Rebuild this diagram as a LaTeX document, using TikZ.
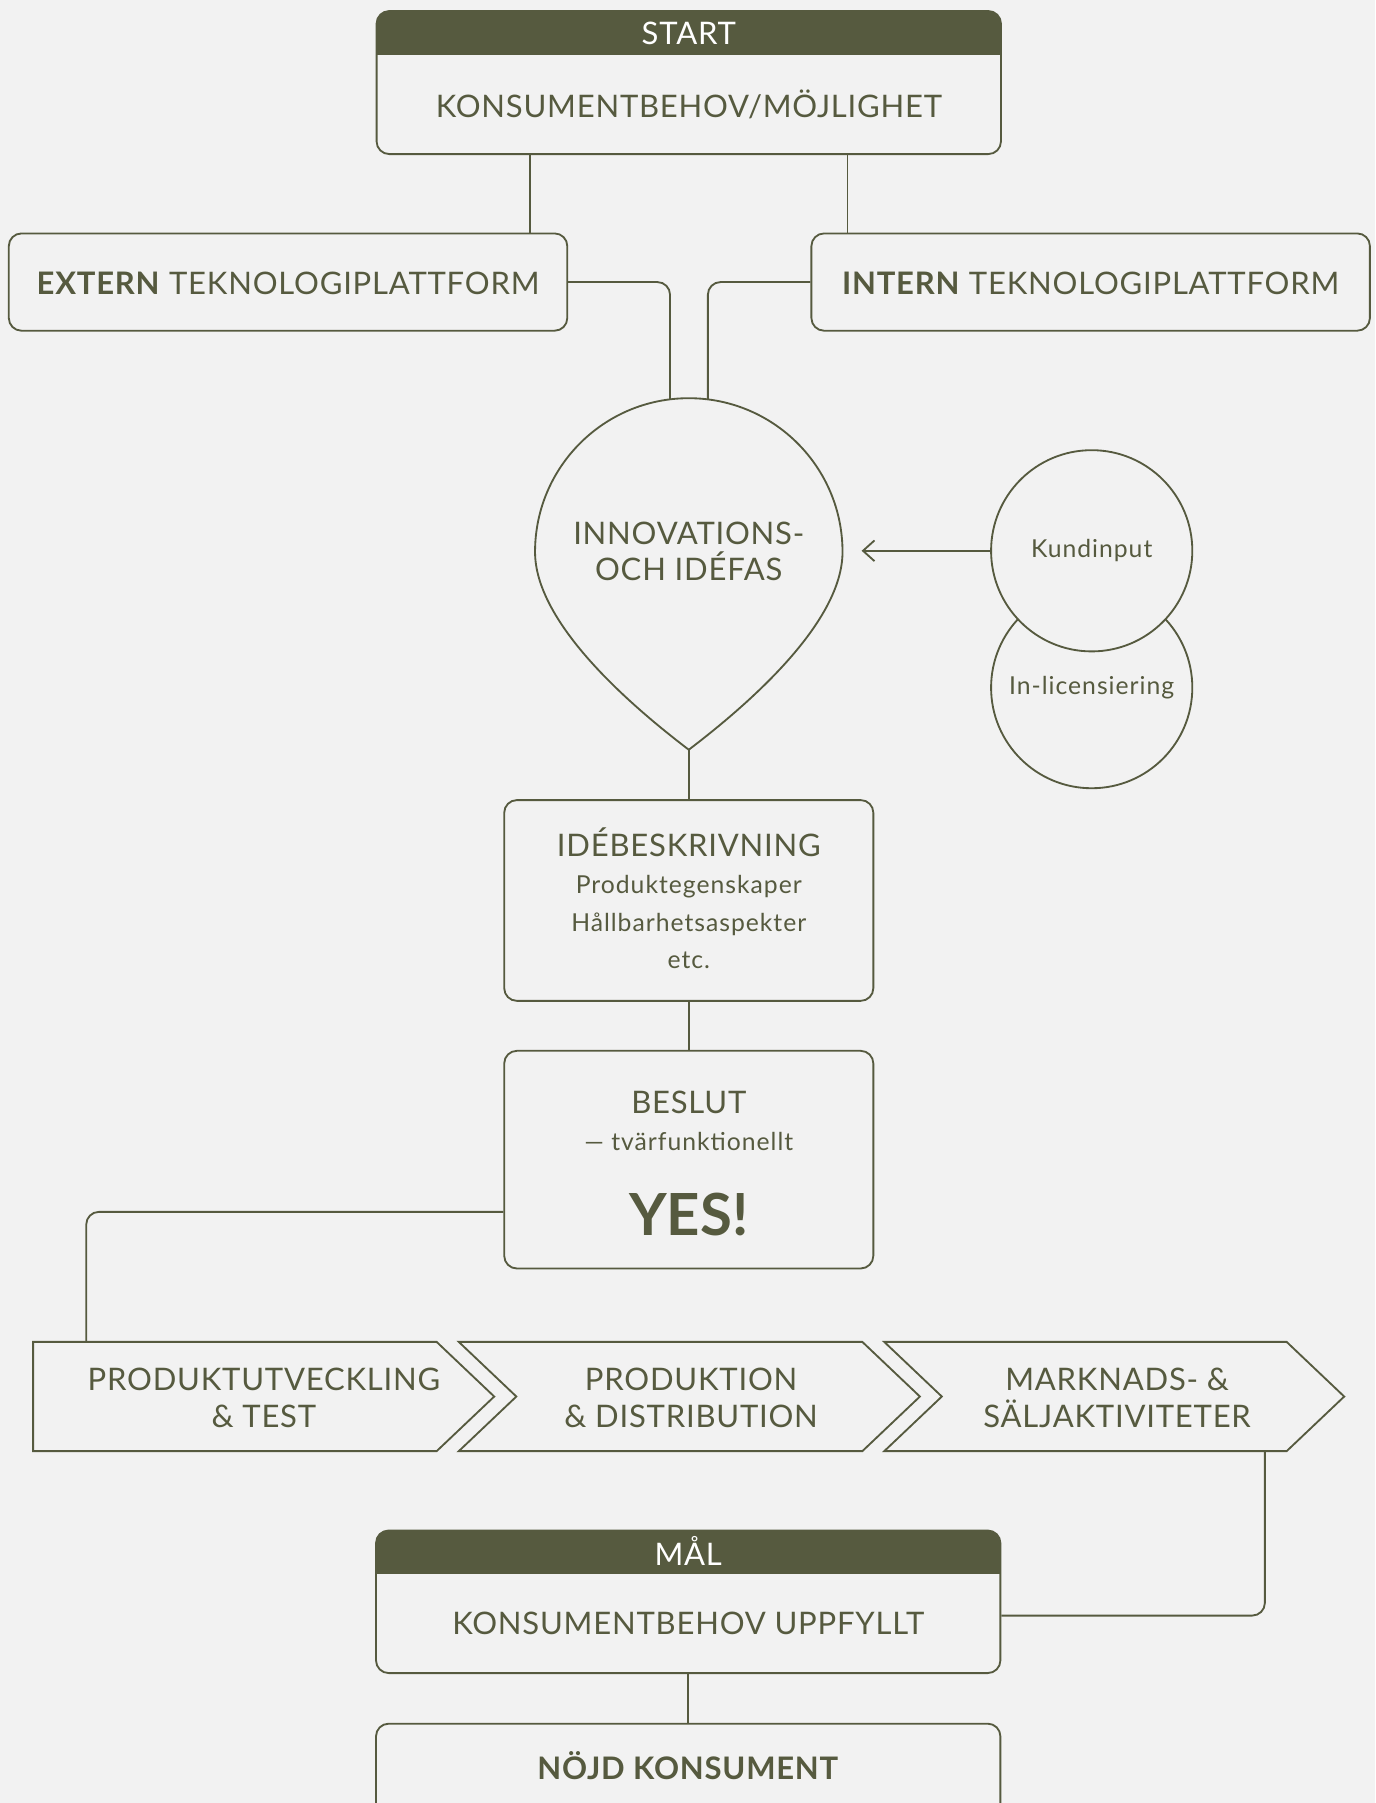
\documentclass[tikz,border=0pt]{standalone}
\usepackage{fontspec}
\setmainfont{Lato}
\newfontfamily\titlefam{Lato}[LetterSpace=2.5]
\newfontfamily\notefam{Lato}[LetterSpace=4]
\usetikzlibrary{arrows.meta,positioning,calc,shapes.symbols}
\definecolor{markOlive}{RGB}{86,90,63}
\definecolor{bgGray}{RGB}{242,242,242}
\newcommand{\titlefont}{\titlefam\fontsize{27}{32}\selectfont}
\newcommand{\notefont}{\notefam\fontsize{21.5}{33}\selectfont}
\newcommand{\yesfont}{\fontsize{50.5}{56}\selectfont\bfseries}
\tikzset{
  panel/.style={draw=markOlive, line width=1.6pt, rounded corners=11pt, fill=bgGray},
  headpanel/.style={panel, path picture={\fill[markOlive, sharp corners] (path picture bounding box.north west) rectangle ([yshift=-38pt]path picture bounding box.north east);}},
  bigtext/.style={anchor=base, text=markOlive, font=\titlefont, inner sep=0pt},
  whitetext/.style={bigtext, text=white},
  smalltext/.style={anchor=base, text=markOlive, font=\notefont, inner sep=0pt},
  stage/.style={signal, signal pointer angle=87, draw=markOlive, line width=1.6pt, fill=bgGray, minimum height=95pt},
  bubble/.style={circle, draw=markOlive, line width=1.6pt, fill=bgGray, minimum size=175pt, text=markOlive, font=\notefont},
  link/.style={draw=markOlive, line width=1.6pt, rounded corners=11pt},
  arrow/.style={link, -{Straight Barb[length=10pt, width=18pt]}}
}

\begin{document}
\begin{tikzpicture}[x=1pt, y=-1pt]
  \useasboundingbox (0,0) rectangle (1196,1568);
  \clip (0,0) rectangle (1196,1568);
  \fill[bgGray] (0,0) rectangle (1196,1568);

  \node[headpanel, minimum width=543pt, minimum height=124.4pt] (start) at (599,71.8) {};
  \node[whitetext] (starthead) at (599,39) {START};
  \node[bigtext] (starttxt) at (599,102) {KONSUMENTBEHOV/MÖJLIGHET};

  \node[panel, minimum width=485.7pt, minimum height=84.6pt] (extern) at (250.5,245.3) {};
  \node[bigtext] (externtxt) at (250.5,255.7) {\textbf{EXTERN} TEKNOLOGIPLATTFORM};
  \node[panel, minimum width=485.7pt, minimum height=84.6pt] (intern) at (948.5,245.3) {};
  \node[bigtext] (interntxt) at (948.5,255.7) {\textbf{INTERN} TEKNOLOGIPLATTFORM};

  \coordinate (droptip) at (599,652);
  \coordinate (droptopL) at (582.7,347);
  \coordinate (droptopR) at (615.6,347);
  \draw[markOlive, line width=1.6pt, fill=bgGray] (droptip) .. controls (543.3,609.6) and (465.3,540) .. (465.3,480)
    arc[start angle=180, end angle=360, radius=133.7] .. controls (732.7,540) and (654.7,609.6) .. (droptip) -- cycle;
  \node[bigtext] (idefas1) at (599,473.2) {INNOVATIONS-};
  \node[bigtext] (idefas2) at (599,505) {OCH IDÉFAS};

  \node[bubble] (inlic) at (949.4,598) {In-licensiering};
  \node[bubble] (kund) at (949.4,479) {Kundinput};
  \coordinate (arrowend) at (749.3,479);

  \node[panel, minimum width=321pt, minimum height=174.6pt] (idebeskr) at (599,783.1) {};
  \node[bigtext] (idetitle) at (599,744.6) {IDÉBESKRIVNING};
  \node[smalltext] (ide1) at (599,777) {Produktegenskaper};
  \node[smalltext] (ide2) at (599,810.4) {Hållbarhetsaspekter};
  \node[smalltext] (ide3) at (599,842.2) {etc.};

  \node[panel, minimum width=321pt, minimum height=189.3pt] (beslut) at (599,1008.5) {};
  \node[bigtext] (besluttxt) at (599,968.3) {BESLUT};
  \node[smalltext] (beslutsub) at (599,1000.8) {— tvärfunktionellt};
  \node[bigtext, font=\yesfont] (yes) at (599,1074.2) {YES!};

  \node[stage, signal to=east, minimum width=401pt, anchor=west] (utv) at (28,1214.5) {};
  \node[stage, signal from=west, signal to=east, minimum width=401pt] (prod) at (599.5,1214.5) {};
  \node[stage, signal from=west, signal to=east, minimum width=400pt] (mark) at (969,1214.5) {};
  \node[bigtext] (utv1) at (229.5,1209) {PRODUKTUTVECKLING};
  \node[bigtext] (utv2) at (229.5,1241) {\& TEST};
  \node[bigtext] (prod1) at (601,1209) {PRODUKTION};
  \node[bigtext] (prod2) at (601,1241) {\& DISTRIBUTION};
  \node[bigtext] (mark1) at (971.5,1209) {MARKNADS- \&};
  \node[bigtext] (mark2) at (971.5,1241) {SÄLJAKTIVITETER};

  \node[headpanel, minimum width=543pt, minimum height=124pt] (mal) at (598.5,1393) {};
  \node[whitetext] (malhead) at (598.5,1361.2) {MÅL};
  \node[bigtext] (maltxt) at (598.5,1421.5) {KONSUMENTBEHOV UPPFYLLT};

  \node[panel, minimum width=543pt, minimum height=124pt] (nojd) at (598.5,1561) {};
  \node[bigtext] (nojdtxt) at (598.5,1547.6) {\textbf{NÖJD KONSUMENT}};

  \draw[link] ([xshift=-138pt]start.south) -- ([xshift=-138pt]start.south |- extern.north);
  \draw[link] ([xshift=138pt]start.south) -- ([xshift=138pt]start.south |- intern.north);
  \draw[link] (extern.east) -| (droptopL);
  \draw[link] (intern.west) -| (droptopR);
  \draw[arrow] (kund.west) -- (arrowend);
  \draw[link] (droptip) -- (idebeskr.north);
  \draw[link] (idebeskr.south) -- (beslut.north);
  \draw[link] ([yshift=-45.4pt]beslut.west) -| ([shift={(47pt,47.5pt)}]utv.west);
  \draw[link] ([xshift=131pt]mark.south) |- ([yshift=-12pt]mal.east);
  \draw[link] (mal.south) -- (nojd.north);
\end{tikzpicture}
\end{document}
